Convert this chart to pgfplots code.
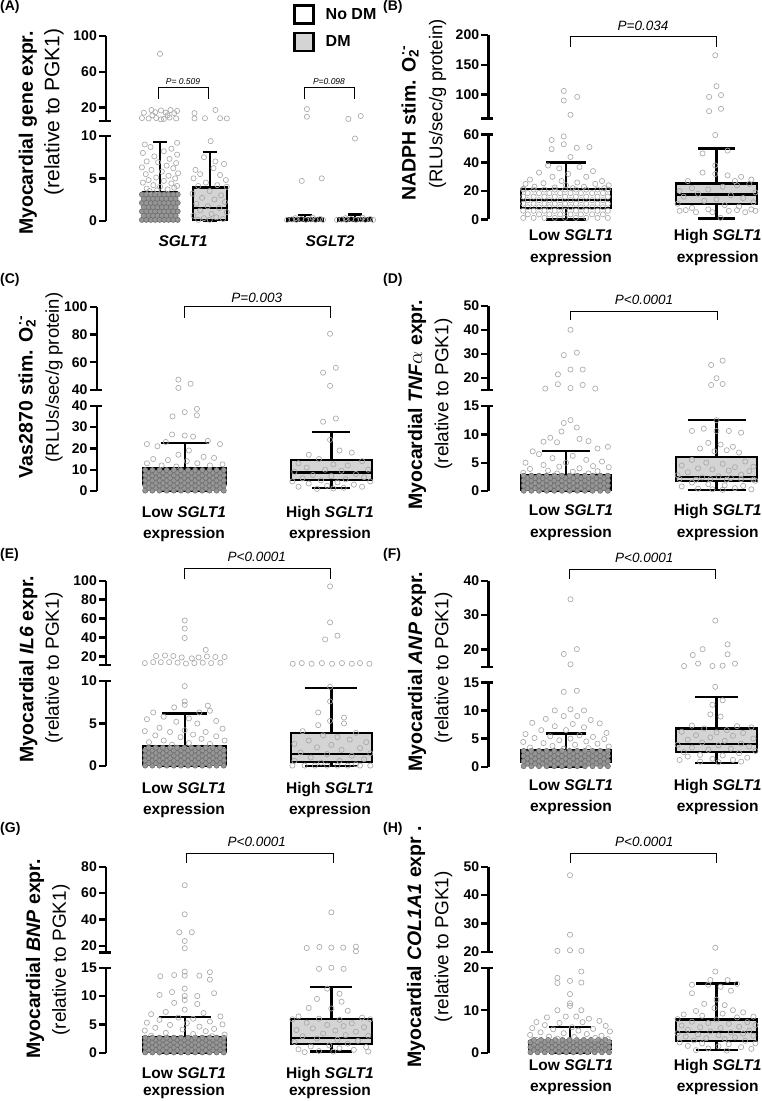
\documentclass[border=0pt]{standalone}
\usepackage{pgfplots}
\pgfplotsset{compat=1.18}
\usepackage{fontspec}
\setmainfont{Liberation Sans}
\definecolor{ptc}{RGB}{168,168,168}
\definecolor{dnc}{RGB}{112,112,112}
\definecolor{dnf}{RGB}{150,150,150}
\definecolor{dmfill}{RGB}{212,212,212}

\pgfplotsset{
  brk/.style={scale only axis, axis lines=left, clip=false,
    enlargelimits=false, xtick=\empty, xmin=0,
    axis line style={draw=none},
    major tick length=6pt, tick align=outside,
    yticklabel style={font=\bfseries\fontsize{14}{16}\selectfont, inner sep=1pt, xshift=-2pt},
    /pgf/number format/assume math mode=true,
    /pgf/number format/1000 sep={}},
  pts/.style={only marks, mark=o, mark size=2.6pt, mark options={draw=ptc, line width=0.65pt}},
  dns/.style={only marks, mark=*, mark size=2.6pt, mark options={draw=dnc, fill=dnf, line width=0.6pt}},
  bx/.style={draw=black, line width=2.4pt, solid, mark=none, line join=miter},
  sqleg/.style={legend image code/.code={\draw[##1] (0pt,-9pt) rectangle (19pt,9pt);}},
}
% box: centre, box width, cap width, low whisker, Q1, median, Q3, high whisker, fill
\newcommand{\bxp}[9]{%
  \addplot[bx, fill=#9, x filter/.expression={x*#2+#1}] coordinates {(-0.5,#5)(0.5,#5)(0.5,#7)(-0.5,#7)(-0.5,#5)(0.5,#5)};
  \addplot[bx, x filter/.expression={x*#2+#1}] coordinates {(-0.5,#6)(0.5,#6)};
  \addplot[bx, x filter/.expression={x*#3+#1}] coordinates {(0,#7)(0,#8)};
  \addplot[bx, x filter/.expression={x*#3+#1}] coordinates {(-0.5,#8)(0.5,#8)};
  \addplot[bx, x filter/.expression={x*#3+#1}] coordinates {(0,#5)(0,#4)};
  \addplot[bx, x filter/.expression={x*#3+#1}] coordinates {(-0.5,#4)(0.5,#4)};
}

\begin{document}
\begin{tikzpicture}
\path[use as bounding box] (0pt,0pt) rectangle (762pt,-1101pt);

%% ---------------- (A)
\begin{axis}[brk, at={(106pt,-120.7pt)}, anchor=south west, width=274pt, height=84.7pt,
  xmax=274, ymin=5, ymax=100, ytick={20,60,100},
  legend style={draw=none, fill=none, at={(0.672,1.40)}, anchor=north west, row sep=7pt, column sep=9pt,
    font=\bfseries\fontsize{16}{19}\selectfont, legend cell align=left}]
\addlegendimage{sqleg, draw=black, line width=2.4pt, fill=white}
\addlegendentry{No DM}
\addlegendimage{sqleg, draw=black, line width=2.4pt, fill=dmfill}
\addlegendentry{DM}
\addplot[pts, x filter/.expression={x*19+54}] coordinates {(0,80)(-0.45,17)(0.05,16.5)(0.55,17)(0.9,16)(-0.85,14)(-0.25,14.5)(0.3,14)(0.75,13.5)(-0.95,8)(-0.6,7.5)(-0.2,8)(0.2,7)(0.5,8.5)(0.85,7.5)(0.05,6.5)(-0.4,11)(0.4,11)};
\addplot[pts, x filter/.expression={x*19+103.7}] coordinates {(-0.8,13.5)(-0.8,7.5)(-0.25,7.8)(0.3,17)(0.9,7.5)(0.55,7.8)};
\addplot[pts, x filter/.expression={x*19+199}] coordinates {(0.1,18)(0.1,9.5)};
\addplot[pts, x filter/.expression={x*19+249}] coordinates {(-0.35,7)(0.3,10.3)};
\end{axis}
\begin{axis}[brk, at={(106pt,-220.7pt)}, anchor=south west, width=274pt, height=84.7pt,
  xmax=274, ymin=0, ymax=10, ytick={0,5,10}]
\bxp{54}{34}{14}{0}{0}{1}{3.4}{9.3}{white}
\bxp{103.7}{34}{14}{0}{0.05}{1.5}{3.9}{8.1}{dmfill}
\bxp{199}{36}{14}{0}{0.02}{0.1}{0.35}{0.7}{white}
\bxp{249}{34}{14}{0}{0.02}{0.1}{0.35}{0.75}{dmfill}
\addplot[dns, x filter/.expression={x*19+54}] coordinates {
(-0.95,0.1)(-0.72,0.1)(-0.48,0.1)(-0.25,0.1)(-0.02,0.1)(0.22,0.1)(0.45,0.1)(0.7,0.1)(0.93,0.1)
(-0.85,0.6)(-0.6,0.6)(-0.37,0.6)(-0.13,0.6)(0.1,0.6)(0.33,0.6)(0.58,0.6)(0.82,0.6)
(-0.95,1.1)(-0.72,1.1)(-0.48,1.1)(-0.25,1.1)(-0.02,1.1)(0.22,1.1)(0.45,1.1)(0.7,1.1)(0.93,1.1)
(-0.85,1.6)(-0.6,1.6)(-0.37,1.6)(-0.13,1.6)(0.1,1.6)(0.33,1.6)(0.58,1.6)(0.82,1.6)
(-0.95,2.1)(-0.72,2.1)(-0.48,2.1)(-0.25,2.1)(-0.02,2.1)(0.22,2.1)(0.45,2.1)(0.7,2.1)(0.93,2.1)
(-0.85,2.6)(-0.6,2.6)(-0.37,2.6)(-0.13,2.6)(0.1,2.6)(0.33,2.6)(0.58,2.6)(0.82,2.6)
(-0.95,3.1)(-0.72,3.1)(-0.48,3.1)(-0.25,3.1)(-0.02,3.1)(0.22,3.1)(0.45,3.1)(0.7,3.1)(0.93,3.1)};
\addplot[pts, x filter/.expression={x*19+54}] coordinates {(-0.8,9.0)(0.9,9.2)(-0.5,8.7)(0.6,8.5)(-0.9,8.0)(0.2,8.2)(0.9,7.8)(-0.3,7.6)(0.5,7.3)(-0.7,7.0)(0.85,6.8)(-0.1,6.9)(0.35,6.5)(-0.95,6.3)(0.7,6.2)(-0.45,6.0)(0.1,5.8)(0.95,5.6)(-0.75,5.5)(0.45,5.3)(-0.2,5.1)(0.8,5.0)(-0.6,4.8)(0.2,4.7)(-0.9,4.5)(0.6,4.4)(-0.35,4.2)(0.9,4.1)(0.0,4.0)(-0.7,3.8)(0.4,3.7)(-0.15,3.6)(0.75,3.9)(-0.55,3.5)};
\addplot[pts, x filter/.expression={x*19+103.7}] coordinates {(0.05,9.4)(-0.3,7.5)(0.3,7.0)(0.75,6.7)(-0.75,6.0)(0.2,6.2)(-0.5,5.5)(0.55,5.4)(-0.85,5.0)(0.85,4.8)(-0.2,4.5)(0.4,4.2)(-0.6,4.1)(0.9,4.0)(0.0,3.5)(-0.9,3.2)(0.6,3.0)(-0.4,2.7)(0.25,2.5)(0.8,2.2)(-0.7,2.0)(-0.1,1.7)(0.5,1.5)(-0.5,1.2)(0.9,1.0)(0.1,0.8)(-0.85,0.6)(0.35,0.4)(-0.3,0.3)(0.7,0.2)(-0.6,0.1)(0.0,0.1)};
\addplot[pts, x filter/.expression={x*19+199}] coordinates {(-0.17,4.7)(0.88,5.0)(-0.95,0.1)(-0.7,0.15)(-0.45,0.1)(-0.2,0.2)(0.05,0.1)(0.3,0.15)(0.55,0.1)(0.8,0.2)(0.95,0.1)(-0.5,0.3)(0.4,0.35)};
\addplot[pts, x filter/.expression={x*19+249}] coordinates {(0,9.7)(-0.95,0.1)(-0.7,0.15)(-0.45,0.1)(-0.2,0.2)(0.05,0.1)(0.3,0.15)(0.55,0.1)(0.8,0.2)(0.95,0.1)(-0.5,0.3)(0.4,0.35)};
\end{axis}

%% ---------------- (B)
\begin{axis}[brk, at={(488.3pt,-118.3pt)}, anchor=south west, width=273.7pt, height=83.3pt,
  xmax=273.7, ymin=60, ymax=200, ytick={100,150,200}]
\addplot[pts, x filter/.expression={x*45+77.7}] coordinates {(-0.05,106)(0.25,96)(-0.05,90)(0.1,66)};
\addplot[pts, x filter/.expression={x*41+228.2}] coordinates {(-0.03,166)(0,114)(-0.18,96)(0.11,99)(-0.18,72)(0.11,76)};
\end{axis}
\begin{axis}[brk, at={(488.3pt,-219.3pt)}, anchor=south west, width=273.7pt, height=85pt,
  xmax=273.7, ymin=0, ymax=60, ytick={0,20,40,60}]
\bxp{77.7}{90}{40}{0}{7.8}{13.6}{21.2}{40}{white}
\bxp{228.2}{81}{37}{0.5}{10.8}{17.4}{25.4}{50}{dmfill}
\addplot[pts, x filter/.expression={x*45+77.7}] coordinates {
(-0.95,1)(-0.72,1)(-0.48,1)(-0.25,1)(-0.02,1)(0.22,1)(0.45,1)(0.7,1)(0.93,1)
(-0.85,3.5)(-0.6,3.5)(-0.37,3.5)(-0.13,3.5)(0.1,3.5)(0.33,3.5)(0.58,3.5)(0.82,3.5)
(-0.95,6)(-0.72,6)(-0.48,6)(-0.25,6)(-0.02,6)(0.22,6)(0.45,6)(0.7,6)(0.93,6)
(-0.85,8.5)(-0.6,8.5)(-0.37,8.5)(-0.13,8.5)(0.1,8.5)(0.33,8.5)(0.58,8.5)(0.82,8.5)
(-0.95,11)(-0.72,11)(-0.48,11)(-0.25,11)(-0.02,11)(0.22,11)(0.45,11)(0.7,11)(0.93,11)
(-0.85,13.5)(-0.6,13.5)(-0.37,13.5)(-0.13,13.5)(0.1,13.5)(0.33,13.5)(0.58,13.5)(0.82,13.5)
(-0.95,16)(-0.72,16)(-0.48,16)(-0.25,16)(-0.02,16)(0.22,16)(0.45,16)(0.7,16)(0.93,16)
(-0.85,18.5)(-0.6,18.5)(-0.37,18.5)(-0.13,18.5)(0.1,18.5)(0.33,18.5)(0.58,18.5)(0.82,18.5)
(-0.95,21)(-0.72,21)(-0.48,21)(-0.25,21)(-0.02,21)(0.22,21)(0.45,21)(0.7,21)(0.93,21)
(-0.32,56)(-0.05,58.5)(-0.05,53)(-0.32,49.5)(0.24,50.5)(0.52,51)(0.1,44)(-0.4,38)(0.3,37)(-0.15,36)(0.6,34)(-0.6,33)(0.05,32)(-0.3,30)(0.45,30)(-0.8,28)(0.8,27)(-0.1,27)(0.25,26)(-0.5,25.5)(0.65,25)(-0.9,25)(0.95,24)(0.0,24)(-0.7,23)(0.4,23)(-0.25,22.5)(0.85,22)(-0.95,21.5)(0.15,22)};
\addplot[pts, x filter/.expression={x*41+228.2}] coordinates {(-0.03,59.5)(-0.34,46.5)(0.27,48.5)(-0.34,33)(-0.03,38)(-0.03,32)(0.27,31)(0.6,30)(0.85,28)(-0.7,27)(0.45,27)(-0.9,20)(-0.6,22)(-0.2,21)(0.15,23)(0.5,24)(0.8,25)(0.95,19)(-0.45,18)(0.35,17)(-0.8,16)(0.65,15)(0,14)(-0.3,13)(0.9,12)(-0.95,11)(0.2,10)(0.55,9)(-0.6,8)(-0.9,6)(-0.5,5)(-0.1,5)(0.3,6)(0.7,5)(0.95,6)(0.1,1)(-0.75,6.5)(0.5,6.5)(-0.2,7)(0.85,7)};
\end{axis}

%% ---------------- (C)
\begin{axis}[brk, at={(96.7pt,-390pt)}, anchor=south west, width=283.3pt, height=83.3pt,
  xmax=283.3, ymin=40, ymax=100, ytick={40,60,80,100}]
\addplot[pts, x filter/.expression={x*42+88}] coordinates {(-0.15,47.5)(-0.15,41.5)(0.14,44.5)};
\addplot[pts, x filter/.expression={x*41+234.6}] coordinates {(-0.03,80.5)(-0.2,52.5)(0.11,56)(-0.03,43)};
\end{axis}
\begin{axis}[brk, at={(96.7pt,-491pt)}, anchor=south west, width=283.3pt, height=85.3pt,
  xmax=283.3, ymin=0, ymax=40, ytick={0,10,20,30,40}]
\bxp{88}{83}{48}{0}{3.2}{5.8}{10.6}{22.4}{white}
\bxp{234.6}{81}{38}{1.3}{5.2}{8.6}{14.6}{27.8}{dmfill}
\addplot[dns, x filter/.expression={x*42+88}] coordinates {
(-0.94,0.2)(-0.77,0.2)(-0.6,0.2)(-0.43,0.2)(-0.26,0.2)(-0.09,0.2)(0.08,0.2)(0.25,0.2)(0.42,0.2)(0.59,0.2)(0.76,0.2)(0.93,0.2)
(-0.86,1.4)(-0.69,1.4)(-0.52,1.4)(-0.35,1.4)(-0.18,1.4)(-0.01,1.4)(0.16,1.4)(0.33,1.4)(0.5,1.4)(0.67,1.4)(0.84,1.4)
(-0.94,2.6)(-0.77,2.6)(-0.6,2.6)(-0.43,2.6)(-0.26,2.6)(-0.09,2.6)(0.08,2.6)(0.25,2.6)(0.42,2.6)(0.59,2.6)(0.76,2.6)(0.93,2.6)
(-0.86,3.8)(-0.69,3.8)(-0.52,3.8)(-0.35,3.8)(-0.18,3.8)(-0.01,3.8)(0.16,3.8)(0.33,3.8)(0.5,3.8)(0.67,3.8)(0.84,3.8)
(-0.94,5)(-0.77,5)(-0.6,5)(-0.43,5)(-0.26,5)(-0.09,5)(0.08,5)(0.25,5)(0.42,5)(0.59,5)(0.76,5)(0.93,5)
(-0.86,6.2)(-0.69,6.2)(-0.52,6.2)(-0.35,6.2)(-0.18,6.2)(-0.01,6.2)(0.16,6.2)(0.33,6.2)(0.5,6.2)(0.67,6.2)(0.84,6.2)
(-0.94,7.4)(-0.77,7.4)(-0.6,7.4)(-0.43,7.4)(-0.26,7.4)(-0.09,7.4)(0.08,7.4)(0.25,7.4)(0.42,7.4)(0.59,7.4)(0.76,7.4)(0.93,7.4)
(-0.86,8.6)(-0.69,8.6)(-0.52,8.6)(-0.35,8.6)(-0.18,8.6)(-0.01,8.6)(0.16,8.6)(0.33,8.6)(0.5,8.6)(0.67,8.6)(0.84,8.6)
(-0.94,9.8)(-0.77,9.8)(-0.6,9.8)(-0.43,9.8)(-0.26,9.8)(-0.09,9.8)(0.08,9.8)(0.25,9.8)(0.42,9.8)(0.59,9.8)(0.76,9.8)(0.93,9.8)};
\addplot[pts, x filter/.expression={x*42+88}] coordinates {(0,37)(0.29,38.5)(0.29,35.5)(-0.29,35)(-0.9,22)(-0.3,26.5)(0,26)(0.2,25.5)(0.84,22)(-0.45,23)(0.55,23.5)(-0.65,21)(0.1,19)(-0.15,17)(0.45,16)(-0.75,15)(0.7,15.5)(-0.4,14.5)(0.05,14)(0.3,13)(-0.9,13)(0.9,12.5)(-0.55,12)(0.6,12)(-0.2,11.5)};
\addplot[pts, x filter/.expression={x*41+234.6}] coordinates {(-0.2,32.5)(0.11,34)(-0.03,24)(-0.55,17)(0.5,18)(0.2,19)(-0.3,15)(0.75,14)(-0.8,13)(0.05,12.5)(0.4,12)(-0.6,11)(0.9,10)(-0.15,10)(0.25,9.5)(-0.9,9)(0.6,8)(-0.45,7.5)(0.0,7)(0.8,6.5)(-0.7,6)(0.35,5.5)(-0.25,5)(0.95,4.5)(-0.95,4.5)(0.15,4)(-0.55,3.5)(0.55,3)(-0.1,2.5)(0.75,2)(-0.8,2)(0.3,1.5)(-0.35,1)(0.05,1.2)};
\end{axis}

%% ---------------- (D)
\begin{axis}[brk, at={(488.3pt,-390pt)}, anchor=south west, width=273.7pt, height=84.3pt,
  xmax=273.7, ymin=15, ymax=50, ytick={20,30,40,50}]
\addplot[pts, x filter/.expression={x*45+77.7}] coordinates {(0.1,40)(-0.05,29.5)(0.24,30.5)(-0.18,21.5)(0.1,23.5)(0.37,23.5)(-0.46,15.6)(-0.18,17.4)(0.1,15.8)(0.37,17.1)(0.65,15.6)};
\addplot[pts, x filter/.expression={x*41+228.2}] coordinates {(-0.13,25.4)(0.15,27.2)(0,19.9)(-0.13,17.1)(0.15,17.5)};
\end{axis}
\begin{axis}[brk, at={(488.3pt,-491pt)}, anchor=south west, width=273.7pt, height=85pt,
  xmax=273.7, ymin=0, ymax=15, ytick={0,5,10,15}]
\bxp{77.7}{90}{48}{0}{0.3}{1.2}{2.8}{7.05}{white}
\bxp{228.2}{81}{58}{0.2}{1.76}{2.5}{6.05}{12.5}{dmfill}
\addplot[dns, x filter/.expression={x*45+77.7}] coordinates {
(-0.94,0.05)(-0.77,0.05)(-0.6,0.05)(-0.43,0.05)(-0.26,0.05)(-0.09,0.05)(0.08,0.05)(0.25,0.05)(0.42,0.05)(0.59,0.05)(0.76,0.05)(0.93,0.05)
(-0.86,0.5)(-0.69,0.5)(-0.52,0.5)(-0.35,0.5)(-0.18,0.5)(-0.01,0.5)(0.16,0.5)(0.33,0.5)(0.5,0.5)(0.67,0.5)(0.84,0.5)
(-0.94,0.95)(-0.77,0.95)(-0.6,0.95)(-0.43,0.95)(-0.26,0.95)(-0.09,0.95)(0.08,0.95)(0.25,0.95)(0.42,0.95)(0.59,0.95)(0.76,0.95)(0.93,0.95)
(-0.86,1.4)(-0.69,1.4)(-0.52,1.4)(-0.35,1.4)(-0.18,1.4)(-0.01,1.4)(0.16,1.4)(0.33,1.4)(0.5,1.4)(0.67,1.4)(0.84,1.4)
(-0.94,1.85)(-0.77,1.85)(-0.6,1.85)(-0.43,1.85)(-0.26,1.85)(-0.09,1.85)(0.08,1.85)(0.25,1.85)(0.42,1.85)(0.59,1.85)(0.76,1.85)(0.93,1.85)
(-0.86,2.3)(-0.69,2.3)(-0.52,2.3)(-0.35,2.3)(-0.18,2.3)(-0.01,2.3)(0.16,2.3)(0.33,2.3)(0.5,2.3)(0.67,2.3)(0.84,2.3)
(-0.94,2.7)(-0.77,2.7)(-0.6,2.7)(-0.43,2.7)(-0.26,2.7)(-0.09,2.7)(0.08,2.7)(0.25,2.7)(0.42,2.7)(0.59,2.7)(0.76,2.7)(0.93,2.7)};
\addplot[pts, x filter/.expression={x*45+77.7}] coordinates {(0.1,12.5)(-0.05,12)(0.24,11.2)(-0.1,10.5)(-0.35,9.4)(0.3,9.2)(-0.5,8.7)(-0.2,8.6)(0.5,8.8)(0.93,7.8)(-0.74,7)(0.7,7.5)(-0.6,6.5)(0.15,6.2)(-0.3,5.8)(0.45,5.5)(-0.9,5)(0.8,5.2)(0.0,5)(-0.5,4.6)(0.6,4.4)(-0.15,4.3)(0.3,4)(0.95,4.2)(-0.8,3.9)(-0.4,3.6)(0.15,3.4)(0.7,3.5)(-0.95,3.2)(0.5,3.1)(-0.2,3.1)};
\addplot[pts, x filter/.expression={x*41+228.2}] coordinates {(0,12.5)(-0.6,10.6)(-0.31,11)(0,10.6)(0.3,10.6)(0.6,10.3)(-0.2,8.5)(0.1,8.2)(0.4,7.8)(-0.4,7.5)(0.25,7.2)(-0.05,7)(0.55,6.8)(-0.6,5.5)(0.7,5.2)(-0.25,5)(0.15,4.8)(-0.85,4.5)(0.9,4.3)(0.45,4.2)(-0.45,4)(-0.1,3.8)(0.3,3.6)(0.8,3.5)(-0.7,3.3)(-0.95,2.8)(0.6,2.9)(0.05,2.6)(-0.35,2.4)(0.35,2.3)(0.95,1.8)(-0.6,1.5)(-0.2,1.2)(0.2,1.0)(0.65,0.9)(-0.85,0.8)(0.45,0.5)(-0.45,0.4)(0.85,0.3)(-0.1,0.3)(0.15,0.2)(-0.9,2.1)(-0.5,2.0)(-0.15,2.1)(0.25,2.0)(0.6,2.1)(0.9,2.0)};
\end{axis}

%% ---------------- (E)
\begin{axis}[brk, at={(106pt,-665pt)}, anchor=south west, width=274pt, height=84.3pt,
  xmax=274, ymin=11, ymax=100, ytick={20,40,60,80,100}]
\addplot[pts, x filter/.expression={x*42+78.7}] coordinates {(0,58)(0,49.5)(0,39.5)(0.5,27)(-0.68,20.5)(-0.47,21)(-0.27,20.5)(-0.07,19)(0.33,19)(0.53,20)(0.73,19.5)(0.95,19.5)(-0.95,13)(-0.57,14)(-0.37,14)(-0.17,13.5)(0.03,12.5)(0.23,13)(0.43,13.5)(0.63,13)(0.85,13.5)(-0.75,14)(0.17,18)};
\addplot[pts, x filter/.expression={x*41+225.3}] coordinates {(-0.03,94)(-0.03,56)(-0.15,38)(0.15,42)(-0.94,12.3)(-0.72,13)(-0.48,12.3)(-0.23,13)(0.02,12.3)(0.26,13)(0.5,12.3)(0.7,13)(0.93,12.3)};
\end{axis}
\begin{axis}[brk, at={(106pt,-766pt)}, anchor=south west, width=274pt, height=85pt,
  xmax=274, ymin=0, ymax=10, ytick={0,5,10}]
\bxp{78.7}{83}{45}{0}{0.1}{0.6}{2.35}{6.2}{white}
\bxp{225.3}{81}{52}{0}{0.5}{1.4}{3.85}{9.2}{dmfill}
\addplot[dns, x filter/.expression={x*42+78.7}] coordinates {
(-0.94,0.05)(-0.77,0.05)(-0.6,0.05)(-0.43,0.05)(-0.26,0.05)(-0.09,0.05)(0.08,0.05)(0.25,0.05)(0.42,0.05)(0.59,0.05)(0.76,0.05)(0.93,0.05)
(-0.86,0.35)(-0.69,0.35)(-0.52,0.35)(-0.35,0.35)(-0.18,0.35)(-0.01,0.35)(0.16,0.35)(0.33,0.35)(0.5,0.35)(0.67,0.35)(0.84,0.35)
(-0.94,0.65)(-0.77,0.65)(-0.6,0.65)(-0.43,0.65)(-0.26,0.65)(-0.09,0.65)(0.08,0.65)(0.25,0.65)(0.42,0.65)(0.59,0.65)(0.76,0.65)(0.93,0.65)
(-0.86,0.95)(-0.69,0.95)(-0.52,0.95)(-0.35,0.95)(-0.18,0.95)(-0.01,0.95)(0.16,0.95)(0.33,0.95)(0.5,0.95)(0.67,0.95)(0.84,0.95)
(-0.94,1.25)(-0.77,1.25)(-0.6,1.25)(-0.43,1.25)(-0.26,1.25)(-0.09,1.25)(0.08,1.25)(0.25,1.25)(0.42,1.25)(0.59,1.25)(0.76,1.25)(0.93,1.25)
(-0.86,1.55)(-0.69,1.55)(-0.52,1.55)(-0.35,1.55)(-0.18,1.55)(-0.01,1.55)(0.16,1.55)(0.33,1.55)(0.5,1.55)(0.67,1.55)(0.84,1.55)
(-0.94,1.85)(-0.77,1.85)(-0.6,1.85)(-0.43,1.85)(-0.26,1.85)(-0.09,1.85)(0.08,1.85)(0.25,1.85)(0.42,1.85)(0.59,1.85)(0.76,1.85)(0.93,1.85)
(-0.86,2.15)(-0.69,2.15)(-0.52,2.15)(-0.35,2.15)(-0.18,2.15)(-0.01,2.15)(0.16,2.15)(0.33,2.15)(0.5,2.15)(0.67,2.15)(0.84,2.15)};
\addplot[pts, x filter/.expression={x*42+78.7}] coordinates {(0,9.4)(0,7.6)(0,7.2)(-0.25,6.9)(0.55,7.1)(-0.75,6.3)(0.35,6.3)(0.6,6.5)(-0.5,5.8)(0.1,5.6)(0.75,5.3)(-0.9,5.5)(-0.2,5.2)(0.3,5)(-0.6,4.5)(0.9,4.4)(0.0,4.2)(-0.35,4)(0.5,4)(-0.95,4.1)(0.2,3.7)(-0.7,3.6)(0.75,3.5)(-0.1,3.4)(0.4,3.2)(-0.5,3)(0.95,3)(-0.85,2.8)(0.1,2.7)(0.6,2.6)(-0.3,2.5)};
\addplot[pts, x filter/.expression={x*41+225.3}] coordinates {(-0.03,9.3)(-0.03,7.6)(-0.32,6.3)(0.31,5.7)(-0.03,5.3)(-0.32,4.8)(0.31,5)(-0.7,4.1)(0.6,3.9)(-0.2,3.6)(0.15,3.4)(-0.55,3.0)(0.45,3.1)(0.85,2.8)(-0.9,2.6)(0.0,2.5)(-0.35,2.2)(0.7,2.1)(0.25,1.9)(-0.75,1.6)(0.95,1.5)(-0.1,1.4)(0.5,1.2)(-0.5,1.0)(0.8,0.8)(-0.9,0.6)(0.2,0.6)(-0.25,0.4)(0.6,0.2)(-0.95,0.05)(-0.65,0.05)(-0.4,0.05)(-0.1,0.05)(0.15,0.05)(0.4,0.05)(0.7,0.05)(0.95,0.05)};
\end{axis}

%% ---------------- (F)
\begin{axis}[brk, at={(488.3pt,-666.7pt)}, anchor=south west, width=273.7pt, height=86pt,
  xmax=273.7, ymin=15, ymax=40, ytick={20,30,40}]
\addplot[pts, x filter/.expression={x*45+77.7}] coordinates {(0.1,34.6)(-0.05,18.7)(0.24,20.1)(0.1,15.7)};
\addplot[pts, x filter/.expression={x*41+228.2}] coordinates {(-0.03,28.4)(-0.34,20.1)(0.27,21.5)(-0.58,18.4)(0.27,18.6)(-0.79,15.2)(-0.45,15.9)(-0.1,15.2)(0.15,15.3)(0.45,15.9)};
\end{axis}
\begin{axis}[brk, at={(488.3pt,-766.7pt)}, anchor=south west, width=273.7pt, height=84.4pt,
  xmax=273.7, ymin=0, ymax=15, ytick={0,5,10,15}]
\bxp{77.7}{90}{40}{0}{0.8}{1.6}{2.85}{5.9}{white}
\bxp{228.2}{81}{43}{0.7}{2.6}{4.0}{6.8}{12.4}{dmfill}
\addplot[dns, x filter/.expression={x*45+77.7}] coordinates {
(-0.94,0.1)(-0.77,0.1)(-0.6,0.1)(-0.43,0.1)(-0.26,0.1)(-0.09,0.1)(0.08,0.1)(0.25,0.1)(0.42,0.1)(0.59,0.1)(0.76,0.1)(0.93,0.1)
(-0.86,0.55)(-0.69,0.55)(-0.52,0.55)(-0.35,0.55)(-0.18,0.55)(-0.01,0.55)(0.16,0.55)(0.33,0.55)(0.5,0.55)(0.67,0.55)(0.84,0.55)
(-0.94,1.0)(-0.77,1.0)(-0.6,1.0)(-0.43,1.0)(-0.26,1.0)(-0.09,1.0)(0.08,1.0)(0.25,1.0)(0.42,1.0)(0.59,1.0)(0.76,1.0)(0.93,1.0)
(-0.86,1.45)(-0.69,1.45)(-0.52,1.45)(-0.35,1.45)(-0.18,1.45)(-0.01,1.45)(0.16,1.45)(0.33,1.45)(0.5,1.45)(0.67,1.45)(0.84,1.45)
(-0.94,1.9)(-0.77,1.9)(-0.6,1.9)(-0.43,1.9)(-0.26,1.9)(-0.09,1.9)(0.08,1.9)(0.25,1.9)(0.42,1.9)(0.59,1.9)(0.76,1.9)(0.93,1.9)
(-0.86,2.35)(-0.69,2.35)(-0.52,2.35)(-0.35,2.35)(-0.18,2.35)(-0.01,2.35)(0.16,2.35)(0.33,2.35)(0.5,2.35)(0.67,2.35)(0.84,2.35)
(-0.94,2.8)(-0.77,2.8)(-0.6,2.8)(-0.43,2.8)(-0.26,2.8)(-0.09,2.8)(0.08,2.8)(0.25,2.8)(0.42,2.8)(0.59,2.8)(0.76,2.8)(0.93,2.8)};
\addplot[pts, x filter/.expression={x*45+77.7}] coordinates {(-0.05,13.3)(0.24,13.5)(-0.25,10)(0.1,10.2)(0.4,10)(-0.05,9)(0.25,9)(-0.45,8.5)(0.55,8.3)(-0.75,7.8)(0.15,7.6)(0.75,7.7)(-0.25,7.2)(0.4,7)(-0.55,6.5)(0.0,6.5)(0.9,6)(-0.9,5.8)(0.3,5.6)(-0.35,5.4)(0.6,5.3)(-0.7,5.1)(0.1,5)(0.85,4.9)(-0.15,4.7)(0.45,4.5)(-0.95,4.4)(-0.5,4.2)(0.7,4.1)(0.2,3.9)(-0.3,3.7)(0.95,3.6)(-0.8,3.4)(0.5,3.3)(-0.05,3.2)};
\addplot[pts, x filter/.expression={x*41+228.2}] coordinates {(-0.03,14.2)(-0.1,11)(0.15,11.8)(-0.15,9.3)(0.1,8.9)(0.5,7.2)(-0.6,7.3)(0.85,7)(-0.3,6.8)(0.25,6.5)(-0.85,6.2)(0.65,6)(0.0,6.1)(-0.5,5.6)(0.4,5.5)(-0.15,5.2)(0.9,5)(-0.7,4.8)(0.2,4.6)(-0.35,4.3)(0.6,4.1)(-0.95,3.9)(0.05,3.8)(0.8,3.6)(-0.6,3.4)(0.35,3.2)(-0.2,3.0)(0.95,2.8)(-0.8,2.6)(0.55,2.4)(-0.4,2.1)(0.15,2.0)(-0.7,1.8)(0.75,1.6)(-0.1,1.4)(0.4,1.2)(-0.9,1.2)(-0.4,0.9)(0.05,0.8)(0.6,0.9)};
\end{axis}

%% ---------------- (G)
\begin{axis}[brk, at={(106pt,-952.6pt)}, anchor=south west, width=274pt, height=85.9pt,
  xmax=274, ymin=15, ymax=80, ytick={20,40,60,80}]
\addplot[pts, x filter/.expression={x*42+78.7}] coordinates {(0,66)(0,44)(-0.13,30.4)(0.17,30.4)(0,23.8)(0,18.3)};
\addplot[pts, x filter/.expression={x*41+225.3}] coordinates {(0,45.5)(-0.6,18.5)(-0.29,19.3)(0,18.8)(0.29,18.8)(0.6,19.5)(0.6,16)};
\end{axis}
\begin{axis}[brk, at={(106pt,-1052.7pt)}, anchor=south west, width=274pt, height=85pt,
  xmax=274, ymin=0, ymax=15, ytick={0,5,10,15}]
\bxp{78.7}{83}{52}{0}{0.2}{1.0}{2.65}{6.35}{white}
\bxp{225.3}{81}{42}{0.2}{1.5}{2.6}{5.9}{11.6}{dmfill}
\addplot[dns, x filter/.expression={x*42+78.7}] coordinates {
(-0.94,0.05)(-0.77,0.05)(-0.6,0.05)(-0.43,0.05)(-0.26,0.05)(-0.09,0.05)(0.08,0.05)(0.25,0.05)(0.42,0.05)(0.59,0.05)(0.76,0.05)(0.93,0.05)
(-0.86,0.5)(-0.69,0.5)(-0.52,0.5)(-0.35,0.5)(-0.18,0.5)(-0.01,0.5)(0.16,0.5)(0.33,0.5)(0.5,0.5)(0.67,0.5)(0.84,0.5)
(-0.94,0.95)(-0.77,0.95)(-0.6,0.95)(-0.43,0.95)(-0.26,0.95)(-0.09,0.95)(0.08,0.95)(0.25,0.95)(0.42,0.95)(0.59,0.95)(0.76,0.95)(0.93,0.95)
(-0.86,1.4)(-0.69,1.4)(-0.52,1.4)(-0.35,1.4)(-0.18,1.4)(-0.01,1.4)(0.16,1.4)(0.33,1.4)(0.5,1.4)(0.67,1.4)(0.84,1.4)
(-0.94,1.85)(-0.77,1.85)(-0.6,1.85)(-0.43,1.85)(-0.26,1.85)(-0.09,1.85)(0.08,1.85)(0.25,1.85)(0.42,1.85)(0.59,1.85)(0.76,1.85)(0.93,1.85)
(-0.86,2.3)(-0.69,2.3)(-0.52,2.3)(-0.35,2.3)(-0.18,2.3)(-0.01,2.3)(0.16,2.3)(0.33,2.3)(0.5,2.3)(0.67,2.3)(0.84,2.3)
(-0.94,2.65)(-0.77,2.65)(-0.6,2.65)(-0.43,2.65)(-0.26,2.65)(-0.09,2.65)(0.08,2.65)(0.25,2.65)(0.42,2.65)(0.59,2.65)(0.76,2.65)(0.93,2.65)};
\addplot[pts, x filter/.expression={x*42+78.7}] coordinates {(0,14.3)(-0.58,13.5)(-0.25,13.7)(0,13.6)(0.35,13.6)(0.6,14.2)(0.6,12.9)(0,11.3)(-0.3,10.7)(0,10)(0.3,10)(-0.6,10.2)(0.7,10.5)(0,9.3)(-0.25,8.8)(0.3,8.6)(0,7.6)(-0.45,7.2)(0.45,7)(-0.8,6.8)(0.85,6.4)(-0.15,6.2)(0.2,6)(-0.6,5.8)(0.6,5.5)(-0.9,5.3)(0.05,5.2)(0.9,5)(-0.35,4.9)(0.35,4.6)(-0.7,4.4)(0.7,4.2)(-0.05,4.1)(-0.95,3.9)(0.5,3.8)(-0.45,3.5)(0.2,3.3)(0.95,3.2)(-0.8,3)(0.65,2.9)};
\addplot[pts, x filter/.expression={x*41+225.3}] coordinates {(-0.3,14.8)(0,15)(0.3,14.8)(-0.1,11.3)(0.2,10.4)(-0.35,9.5)(0.25,9)(-0.55,7.9)(0,7.8)(0.4,7.4)(-0.8,6.4)(0.75,6.2)(-0.3,6)(0.2,5.8)(0.95,5.9)(-0.95,5.9)(-0.6,5.3)(0.5,5.2)(-0.1,4.9)(0.3,4.7)(0.8,4.5)(-0.45,4.3)(-0.85,4.0)(0.1,3.9)(0.6,3.7)(-0.2,3.4)(0.35,3.1)(0.9,3)(-0.7,2.9)(-0.35,2.5)(0.15,2.3)(0.65,2.1)(-0.9,1.9)(0.4,1.6)(-0.05,1.3)(-0.5,1.1)(0.85,1.0)(0.2,0.8)(-0.8,0.6)(0.55,0.5)(-0.3,0.3)(0.05,0.2)(0.9,0.2)(-0.65,0.1)};
\end{axis}

%% ---------------- (H)
\begin{axis}[brk, at={(488.3pt,-951.7pt)}, anchor=south west, width=273.7pt, height=85pt,
  xmax=273.7, ymin=20, ymax=50, ytick={20,30,40,50}]
\addplot[pts, x filter/.expression={x*42+81.7}] coordinates {(0,47)(0,26)(-0.3,20.3)(0,20.5)(0.27,20.3)};
\addplot[pts, x filter/.expression={x*41+228.2}] coordinates {(-0.03,21.4)};
\end{axis}
\begin{axis}[brk, at={(488.3pt,-1052.7pt)}, anchor=south west, width=273.7pt, height=85pt,
  xmax=273.7, ymin=0, ymax=20, ytick={0,10,20}]
\bxp{81.7}{82}{42}{0}{0.9}{1.7}{2.8}{6.1}{white}
\bxp{228.2}{81}{42}{0.6}{2.75}{4.9}{7.85}{16.3}{dmfill}
\addplot[dns, x filter/.expression={x*42+81.7}] coordinates {
(-0.94,0.1)(-0.77,0.1)(-0.6,0.1)(-0.43,0.1)(-0.26,0.1)(-0.09,0.1)(0.08,0.1)(0.25,0.1)(0.42,0.1)(0.59,0.1)(0.76,0.1)(0.93,0.1)
(-0.86,0.7)(-0.69,0.7)(-0.52,0.7)(-0.35,0.7)(-0.18,0.7)(-0.01,0.7)(0.16,0.7)(0.33,0.7)(0.5,0.7)(0.67,0.7)(0.84,0.7)
(-0.94,1.3)(-0.77,1.3)(-0.6,1.3)(-0.43,1.3)(-0.26,1.3)(-0.09,1.3)(0.08,1.3)(0.25,1.3)(0.42,1.3)(0.59,1.3)(0.76,1.3)(0.93,1.3)
(-0.86,1.9)(-0.69,1.9)(-0.52,1.9)(-0.35,1.9)(-0.18,1.9)(-0.01,1.9)(0.16,1.9)(0.33,1.9)(0.5,1.9)(0.67,1.9)(0.84,1.9)
(-0.94,2.5)(-0.77,2.5)(-0.6,2.5)(-0.43,2.5)(-0.26,2.5)(-0.09,2.5)(0.08,2.5)(0.25,2.5)(0.42,2.5)(0.59,2.5)(0.76,2.5)(0.93,2.5)
(-0.86,3.0)(-0.69,3.0)(-0.52,3.0)(-0.35,3.0)(-0.18,3.0)(-0.01,3.0)(0.16,3.0)(0.33,3.0)(0.5,3.0)(0.67,3.0)(0.84,3.0)};
\addplot[pts, x filter/.expression={x*42+81.7}] coordinates {(0.27,19.1)(-0.3,17.6)(-0.3,16.4)(0,16.9)(0.27,16.5)(0,13.8)(0,11.6)(0,11)(-0.3,10)(0.27,10)(-0.1,8.5)(0.15,8.5)(-0.55,8.3)(0.45,8)(-0.8,7.2)(0.7,7.5)(-0.25,7)(0.3,7.2)(-0.6,6.5)(0.85,6.3)(0.05,6)(-0.9,5.8)(0.55,5.6)(-0.4,5.5)(0.2,5.2)(0.95,5)(-0.7,4.8)(-0.15,4.6)(0.4,4.4)(-0.95,4.2)(0.75,4)(-0.5,3.8)(0.1,3.7)(0.6,3.5)(-0.3,3.3)(0.9,3.2)(-0.8,3.0)};
\addplot[pts, x filter/.expression={x*41+228.2}] coordinates {(-0.03,19.1)(-0.15,17.1)(0.27,17.1)(-0.6,16)(0.5,16.2)(-0.2,16)(0.1,15.5)(-0.6,14)(0.35,14.6)(0.0,12.5)(-0.3,11.5)(0.2,11.2)(-0.05,10.5)(0.4,10)(-0.5,9.8)(0.65,9.5)(-0.8,9)(0.15,9.2)(0.9,8.5)(-0.35,8.7)(0.5,8.3)(-0.95,7.9)(0.0,7.8)(-0.6,7.3)(0.75,7.2)(-0.2,7)(0.3,6.8)(0.95,6.5)(-0.85,6.4)(-0.4,6)(0.55,6.1)(0.1,5.8)(-0.7,5.4)(0.8,5.2)(-0.15,5)(0.35,4.8)(-0.95,4.6)(0.65,4.5)(-0.45,4.3)(0.05,4.1)(0.9,4)(-0.75,3.8)(0.45,3.6)(-0.25,3.4)(0.2,3.2)(-0.55,2.9)(0.7,2.8)(-0.9,2.4)(0.95,2.2)(-0.35,2.2)(0.3,2)(-0.7,1.6)(0.05,1.5)(0.6,1.3)(-0.2,1.0)(0.85,0.9)(-0.5,0.6)(0.25,0.5)};
\end{axis}

%% ---------------- texts, brackets, axis lines (page units)
\begin{scope}[x=1pt, y=-1pt,
  pl/.style={anchor=north west, inner sep=0pt, font=\bfseries\fontsize{14}{16}\selectfont},
  ya/.style={rotate=90, inner sep=0pt, font=\bfseries\fontsize{19.5}{22}\selectfont},
  yb/.style={rotate=90, inner sep=0pt, font=\fontsize{19}{22}\selectfont},
  xl/.style={anchor=base, inner sep=0pt, font=\bfseries\fontsize{15.5}{18}\selectfont},
  pv/.style={anchor=base, inner sep=0pt, font=\itshape\fontsize{13.5}{16}\selectfont},
  br/.style={draw=black, line width=1pt},
  ax/.style={draw=black, line width=2.4pt}]
\node[pl] at (0,0) {(A)};
\node[pl] at (383,0) {(B)};
\node[pl] at (0,273) {(C)};
\node[pl] at (383,273) {(D)};
\node[pl] at (0,548) {(E)};
\node[pl] at (383,548) {(F)};
\node[pl] at (0,822) {(G)};
\node[pl] at (383,822) {(H)};

\node[ya] at (28,133) {Myocardial gene expr.};
\node[yb, font=\fontsize{21}{24}\selectfont] at (54,112) {(relative to PGK1)};
\node[ya] at (410,123) {NADPH stim. O\rlap{\textsubscript{2}}\textsuperscript{\,·-}};
\node[yb, font=\fontsize{18.5}{22}\selectfont] at (437.7,104) {(RLUs/sec/g protein)};
\node[ya] at (27,397) {Vas2870 stim. O\rlap{\textsubscript{2}}\textsuperscript{\,·-}};
\node[yb, font=\fontsize{18.5}{22}\selectfont] at (54,377.5) {(RLUs/sec/g protein)};
\node[ya] at (417,405) {Myocardial \textit{TNF}$\alpha$ expr.};
\node[yb] at (443.5,394) {(relative to PGK1)};
\node[ya] at (28.3,669) {Myocardial \textit{IL6} expr.};
\node[yb] at (54,668) {(relative to PGK1)};
\node[ya] at (417,671.7) {Myocardial \textit{ANP} expr.};
\node[yb] at (443.5,668) {(relative to PGK1)};
\node[ya] at (35,959) {Myocardial \textit{BNP} expr.};
\node[yb] at (61,960) {(relative to PGK1)};
\node[ya] at (416,946.7) {Myocardial \textit{COL1A1} expr .};
\node[yb] at (443.5,946.7) {(relative to PGK1)};

\node[xl] at (183,246.7) {\textit{SGLT1}};
\node[xl] at (330,246.7) {\textit{SGLT2}};
\foreach \cx/\hx/\ya/\yb in {571/717.7/240.7/262, 184/330/517.3/538.5, 571/717.7/515.7/537, 184/330/793.3/814.5, 571/717.7/790/811.5, 184/330/1078.3/1095, 571/717.7/1070/1091.5}{
  \node[xl] at (\cx,\ya) {Low \textit{SGLT1}};
  \node[xl] at (\cx,\yb) {expression};
  \node[xl] at (\hx,\ya) {High \textit{SGLT1}};
  \node[xl] at (\hx,\yb) {expression};
}

\draw[br] (158,99.3) -- (158,87.7) -- (208,87.7) -- (208,99.3);
\node[pv, font=\itshape\fontsize{8.5}{10}\selectfont] at (183,84) {P= 0.509};
\draw[br] (304,99.3) -- (304,87.7) -- (354,87.7) -- (354,99.3);
\node[pv, font=\itshape\fontsize{8.5}{10}\selectfont] at (329,84) {P=0.098};
\draw[br] (570.3,46.7) -- (570.3,36) -- (716,36) -- (716,46.7);
\node[pv] at (643,30) {P=0.034};
\draw[br] (184,317.7) -- (184,306) -- (330,306) -- (330,317.7);
\node[pv] at (256.7,302.3) {P=0.003};
\draw[br] (570.3,320) -- (570.3,311) -- (717,311) -- (717,320);
\node[pv] at (644,304.3) {P<0.0001};
\draw[br] (184,579.3) -- (184,568.3) -- (330.7,568.3) -- (330.7,579.3);
\node[pv] at (256.7,561.7) {P<0.0001};
\draw[br] (569.3,579.3) -- (569.3,569.3) -- (715.3,569.3) -- (715.3,579.3);
\node[pv] at (644.3,562.7) {P<0.0001};
\draw[br] (186.7,863.3) -- (186.7,853.3) -- (333.3,853.3) -- (333.3,863.3);
\node[pv] at (256.7,846.7) {P<0.0001};
\draw[br] (570.3,863.3) -- (570.3,853.3) -- (716,853.3) -- (716,863.3);
\node[pv] at (644.3,846.7) {P<0.0001};

% broken y axes: segment, ticks, and end bars at the break
\draw[ax] (106,36) -- (106,120.7) (99,36) -- (106,36) (99,71.7) -- (106,71.7) (99,107.3) -- (106,107.3) (99,120.7) -- (111,120.7);
\draw[ax] (106,136) -- (106,220.7) (99,136) -- (111,136) (99,178.35) -- (106,178.35) (99,220.7) -- (106,220.7);
\draw[ax] (488.3,35) -- (488.3,118.3) (481.3,35) -- (488.3,35) (481.3,64.8) -- (488.3,64.8) (481.3,94.5) -- (488.3,94.5) (481.3,118.3) -- (493.3,118.3);
\draw[ax] (488.3,134.3) -- (488.3,219.3) (481.3,134.3) -- (493.3,134.3) (481.3,162.6) -- (488.3,162.6) (481.3,191) -- (488.3,191) (481.3,219.3) -- (488.3,219.3);
\draw[ax] (96.7,306.7) -- (96.7,390) (89.7,306.7) -- (96.7,306.7) (89.7,334.5) -- (96.7,334.5) (89.7,362.2) -- (96.7,362.2) (89.7,390) -- (101.7,390);
\draw[ax] (96.7,405.7) -- (96.7,491) (89.7,405.7) -- (101.7,405.7) (89.7,427) -- (96.7,427) (89.7,448.4) -- (96.7,448.4) (89.7,469.7) -- (96.7,469.7) (89.7,491) -- (96.7,491);
\draw[ax] (488.3,305.7) -- (488.3,390) (481.3,305.7) -- (488.3,305.7) (481.3,329.8) -- (488.3,329.8) (481.3,353.9) -- (488.3,353.9) (481.3,378) -- (488.3,378) (481.3,390) -- (493.3,390);
\draw[ax] (488.3,406) -- (488.3,491) (481.3,406) -- (493.3,406) (481.3,434.3) -- (488.3,434.3) (481.3,462.7) -- (488.3,462.7) (481.3,491) -- (488.3,491);
\draw[ax] (106,580.7) -- (106,665) (99,580.7) -- (106,580.7) (99,599.6) -- (106,599.6) (99,618.6) -- (106,618.6) (99,637.5) -- (106,637.5) (99,656.5) -- (106,656.5) (99,665) -- (111,665);
\draw[ax] (106,681) -- (106,766) (99,681) -- (111,681) (99,723.5) -- (106,723.5) (99,766) -- (106,766);
\draw[ax] (488.3,580.7) -- (488.3,666.7) (481.3,580.7) -- (488.3,580.7) (481.3,615.1) -- (488.3,615.1) (481.3,649.5) -- (488.3,649.5) (481.3,666.7) -- (493.3,666.7);
\draw[ax] (488.3,682.3) -- (488.3,766.7) (481.3,682.3) -- (493.3,682.3) (481.3,710.4) -- (488.3,710.4) (481.3,738.6) -- (488.3,738.6) (481.3,766.7) -- (488.3,766.7);
\draw[ax] (106,866.7) -- (106,952.6) (99,866.7) -- (106,866.7) (99,893.1) -- (106,893.1) (99,919.6) -- (106,919.6) (99,946) -- (106,946) (99,952.6) -- (111,952.6);
\draw[ax] (106,967.7) -- (106,1052.7) (99,967.7) -- (111,967.7) (99,996) -- (106,996) (99,1024.4) -- (106,1024.4) (99,1052.7) -- (106,1052.7);
\draw[ax] (488.3,866.7) -- (488.3,951.7) (481.3,866.7) -- (488.3,866.7) (481.3,895) -- (488.3,895) (481.3,923.4) -- (488.3,923.4) (481.3,951.7) -- (493.3,951.7);
\draw[ax] (488.3,967.7) -- (488.3,1052.7) (481.3,967.7) -- (493.3,967.7) (481.3,1010.2) -- (488.3,1010.2) (481.3,1052.7) -- (488.3,1052.7);
% solid fills along the axis segments
\fill[black] (104.8,36) rectangle (107.2,120.7);
\fill[black] (104.8,136) rectangle (107.2,220.7);
\fill[black] (487.1,35) rectangle (489.5,118.3);
\fill[black] (487.1,134.3) rectangle (489.5,219.3);
\fill[black] (95.5,306.7) rectangle (97.9,390);
\fill[black] (95.5,405.7) rectangle (97.9,491);
\fill[black] (487.1,305.7) rectangle (489.5,390);
\fill[black] (487.1,406) rectangle (489.5,491);
\fill[black] (104.8,580.7) rectangle (107.2,665);
\fill[black] (104.8,681) rectangle (107.2,766);
\fill[black] (487.1,580.7) rectangle (489.5,666.7);
\fill[black] (487.1,682.3) rectangle (489.5,766.7);
\fill[black] (104.8,866.7) rectangle (107.2,952.6);
\fill[black] (104.8,967.7) rectangle (107.2,1052.7);
\fill[black] (487.1,866.7) rectangle (489.5,951.7);
\fill[black] (487.1,967.7) rectangle (489.5,1052.7);
\end{scope}
\end{tikzpicture}
\end{document}
